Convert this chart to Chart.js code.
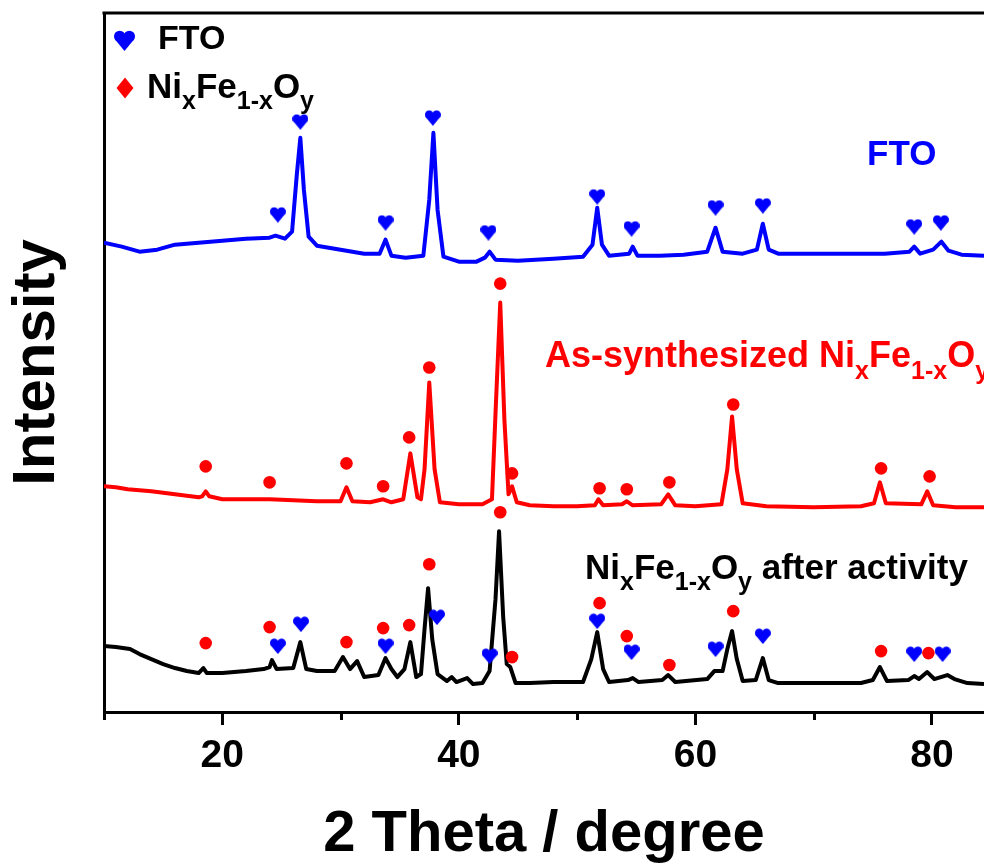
<!DOCTYPE html>
<html>
<head>
<meta charset="utf-8">
<script src="https://cdn.jsdelivr.net/npm/chart.js@4/dist/chart.umd.min.js"></script>
<style>
  html, body { margin: 0; padding: 0; background: #fff; overflow: hidden; }
</style>
</head>
<body>
<canvas id="xrd" width="984" height="867"></canvas>
<script>
/* XRD patterns: FTO substrate, as-synthesized NixFe1-xOy, NixFe1-xOy after activity. */

const FONT = '"Liberation Sans", Arial, sans-serif';
const X_TICKS = [20, 40, 60, 80];
const X_MINOR = [10, 30, 50, 70];

// intensity in a.u., patterns already stacked with offsets
const ftoTheta = [10.0, 11.5, 13.0, 14.5, 16.0, 18.0, 20.0, 22.0, 24.0, 24.5, 25.3, 25.9, 26.3, 26.6, 26.9, 27.3,
  28.0, 30.0, 32.0, 33.3, 33.8, 34.3, 35.5, 37.0, 37.5, 37.85, 38.2, 38.7, 40.0, 41.5, 42.2, 42.6, 43.1, 45.0,
  48.0, 50.5, 51.3, 51.7, 52.1, 52.7, 54.4, 54.7, 55.1, 57.0, 59.0, 61.0, 61.7, 62.3, 64.0, 65.2, 65.7, 66.2,
  67.0, 70.0, 73.0, 76.0, 78.1, 78.5, 79.0, 80.1, 80.8, 81.4, 82.5, 84.4];
const ftoI = [470, 466, 461, 463, 468, 470, 472, 474, 475, 477, 474, 481, 538, 575, 523, 476,
  467, 463, 459, 459, 473, 457, 455, 457, 513, 580, 503, 456, 451, 451, 455, 461, 453, 452,
  454, 456, 468, 505, 468, 457, 459, 466, 457, 457, 458, 461, 485, 461, 459, 463, 489, 463,
  459, 459, 459, 459, 461, 466, 459, 463, 471, 462, 458, 457];

const asTheta = [10.0, 11.0, 12.0, 14.0, 16.0, 18.0, 18.3, 18.6, 18.9, 20.0, 22.0, 24.0, 26.0, 28.0, 30.0, 30.5,
  31.0, 32.5, 33.6, 34.3, 35.3, 35.9, 36.5, 36.8, 37.1, 37.5, 37.95, 38.4, 40.0, 42.0, 42.8, 43.15, 43.5, 43.85,
  44.2, 44.5, 44.9, 46.0, 48.0, 50.0, 51.5, 51.8, 52.2, 53.8, 54.2, 54.7, 57.1, 57.7, 58.3, 60.0, 62.2, 62.7,
  63.1, 63.5, 64.0, 66.0, 70.0, 74.0, 75.1, 75.6, 76.1, 79.1, 79.6, 80.1, 82.0, 84.4];
const asI = [226, 225, 223, 221, 218, 215, 216, 221, 216, 213, 213, 213, 212, 211, 211, 225,
  211, 210, 213, 210, 213, 259, 215, 213, 243, 330, 243, 210, 208, 208, 213, 313, 410, 293,
  218, 226, 210, 207, 206, 206, 207, 213, 207, 208, 211, 207, 208, 218, 207, 206, 208, 243,
  296, 243, 209, 206, 205, 206, 209, 230, 209, 208, 221, 207, 205, 205];

const actTheta = [10.0, 11.0, 12.2, 13.0, 14.0, 15.0, 16.0, 17.0, 18.0, 18.4, 18.7, 20.0, 22.0, 23.5, 24.0, 24.2,
  24.6, 26.0, 26.6, 27.1, 28.0, 29.5, 30.2, 30.8, 31.4, 32.0, 33.2, 33.8, 34.3, 34.8, 35.4, 35.9, 36.4, 36.8,
  37.1, 37.4, 37.75, 38.2, 39.0, 39.4, 39.8, 40.7, 41.2, 42.0, 42.6, 43.1, 43.4, 43.75, 44.05, 44.35, 44.8,
  46.0, 48.0, 50.5, 51.2, 51.7, 52.2, 52.7, 54.3, 54.7, 55.2, 57.2, 57.7, 58.3, 61.0, 61.6, 62.3, 62.7, 63.1,
  63.5, 64.0, 65.1, 65.7, 66.2, 67.0, 70.0, 74.0, 75.0, 75.6, 76.2, 78.0, 78.5, 78.9, 79.6, 80.2, 81.3, 81.9,
  83.0, 84.4];
const actI = [66, 65, 63, 58, 53, 48, 44, 41, 39, 44, 39, 39, 41, 43, 45, 52,
  43, 44, 70, 43, 41, 41, 55, 43, 51, 35, 37, 54, 43, 35, 43, 70, 35, 38,
  83, 124, 73, 38, 31, 35, 30, 34, 28, 29, 41, 113, 181, 95, 48, 45, 29,
  29, 30, 30, 53, 80, 43, 30, 32, 34, 30, 32, 37, 30, 33, 41, 41, 63, 81,
  53, 31, 32, 54, 32, 29, 29, 29, 32, 45, 31, 32, 36, 33, 40, 33, 37, 33,
  29, 28];

// reflection markers
const ftoMarkTheta = [24.7, 26.6, 33.8, 37.8, 42.5, 51.7, 54.6, 61.7, 65.7, 78.5, 80.75];
const ftoMarkI = [498, 591, 490, 595, 480, 516, 484, 505, 507, 486, 490];
const asMarkTheta = [18.6, 24.0, 30.5, 33.6, 35.8, 37.5, 43.5, 44.5, 51.9, 54.2, 57.8, 63.2, 75.7, 79.8];
const asMarkI = [246, 230, 249, 226, 275, 345, 429, 239, 224, 223, 230, 308, 244, 236];
const actDotTheta = [18.6, 24.0, 30.5, 33.6, 35.8, 37.5, 43.5, 44.5, 51.9, 54.2, 57.8, 63.2, 75.7, 79.7];
const actDotI = [69, 85, 70, 84, 87, 148, 200, 55, 109, 76, 47, 101, 61, 59];
const actHeartTheta = [24.7, 26.65, 33.8, 38.15, 42.6, 51.7, 54.6, 61.7, 65.7, 78.5, 80.9];
const actHeartI = [66, 88, 66, 95, 56, 91, 60, 63, 76, 58, 58];

const pts = (xs, ys) => xs.map((x, i) => ({ x, y: ys[i] }));

function heartCanvas(w, h, color) {
  const c = document.createElement("canvas");
  c.width = w; c.height = h;
  const g = c.getContext("2d");
  g.fillStyle = color;
  const r = w * 0.27;
  g.beginPath(); g.arc(w * 0.27, h * 0.3, r, 0, Math.PI * 2); g.fill();
  g.beginPath(); g.arc(w * 0.73, h * 0.3, r, 0, Math.PI * 2); g.fill();
  g.beginPath();
  g.moveTo(w * 0.01, h * 0.4);
  g.lineTo(w / 2, h);
  g.lineTo(w * 0.99, h * 0.4);
  g.lineTo(w / 2, h * 0.3);
  g.closePath(); g.fill();
  return c;
}
const HEART = heartCanvas(16, 16, "#0000ff");
const HEART_BIG = heartCanvas(21, 21, "#0000ff");

// text runs: [string, isSubscript]
const NIFEO = [["Ni", 0], ["x", 1], ["Fe", 0], ["1-x", 1], ["O", 0], ["y", 1]];

function richText(ctx, x, y, parts, size, color) {
  let cx = x;
  ctx.fillStyle = color;
  ctx.textBaseline = "alphabetic";
  ctx.textAlign = "left";
  for (const [t, sub] of parts) {
    ctx.font = `bold ${sub ? Math.round(size * 0.7) : size}px ${FONT}`;
    ctx.fillText(t, cx, sub ? y + size * 0.32 : y);
    cx += ctx.measureText(t).width;
  }
}

const decor = {
  id: "decor",
  afterDraw(chart) {
    const { ctx, chartArea: a, scales: { x } } = chart;
    ctx.save();
    ctx.strokeStyle = "#000";
    ctx.lineWidth = 3;
    ctx.beginPath();
    ctx.moveTo(a.left - 1.5, a.top); ctx.lineTo(a.right, a.top);
    X_MINOR.forEach((v) => {
      const px = Math.round(x.getPixelForValue(v)) + 0.5;
      ctx.moveTo(px, a.bottom); ctx.lineTo(px, a.bottom + 8);
    });
    ctx.stroke();

    // legend
    ctx.drawImage(HEART_BIG, 114, 30);
    ctx.fillStyle = "#ff0000";
    ctx.beginPath();
    ctx.moveTo(125, 77.5); ctx.lineTo(133.5, 88); ctx.lineTo(125, 98.5); ctx.lineTo(116.5, 88);
    ctx.closePath(); ctx.fill();
    richText(ctx, 158, 49, [["FTO", 0]], 34, "#000");
    richText(ctx, 147, 98, NIFEO, 35, "#000");

    // curve labels
    richText(ctx, 867, 165, [["FTO", 0]], 35, "#0000ff");
    richText(ctx, 545, 367, [["As-synthesized ", 0], ...NIFEO], 36, "#ff0000");
    richText(ctx, 585, 579, [...NIFEO, [" after activity", 0]], 35, "#000");
    ctx.restore();
  },
};

const line = (data, color) => ({
  type: "line", data, borderColor: color, borderWidth: 4, pointRadius: 0,
  tension: 0, fill: false, order: 1, borderJoinStyle: "round",
});
const marks = (data, style, color, radius) => ({
  type: "scatter", data, pointStyle: style, pointRadius: radius,
  backgroundColor: color, borderWidth: 0, order: 0,
});

new Chart(document.getElementById("xrd"), {
  data: {
    datasets: [
      line(pts(ftoTheta, ftoI), "#0000ff"),
      line(pts(asTheta, asI), "#ff0000"),
      line(pts(actTheta, actI), "#000000"),
      marks(pts(ftoMarkTheta, ftoMarkI), HEART, "#0000ff", 8),
      marks(pts(asMarkTheta, asMarkI), "circle", "#ff0000", 6.3),
      marks(pts(actDotTheta, actDotI), "circle", "#ff0000", 6.3),
      marks(pts(actHeartTheta, actHeartI), HEART, "#0000ff", 8),
    ],
  },
  options: {
    responsive: false,
    devicePixelRatio: 1,
    animation: false,
    events: [],
    layout: { autoPadding: false, padding: { top: 13, right: 0, bottom: 0, left: 0 } },
    plugins: { legend: { display: false }, tooltip: { enabled: false } },
    scales: {
      x: {
        type: "linear", min: 10, max: 84.4,
        afterBuildTicks: (axis) => { axis.ticks = X_TICKS.map((v) => ({ value: v })); },
        grid: { drawOnChartArea: false, drawTicks: true, tickLength: 13, tickWidth: 3, tickColor: "#000", lineWidth: 3 },
        border: { display: true, color: "#000", width: 3 },
        ticks: { color: "#000", padding: 12, font: { family: FONT, size: 39, weight: "bold", lineHeight: 1 } },
        title: {
          display: true, text: "2 Theta / degree", color: "#000",
          font: { family: FONT, size: 58, weight: "bold", lineHeight: 1 },
          padding: { top: 18, bottom: 3 },
        },
      },
      y: {
        type: "linear", min: 0, max: 700,
        grid: { display: false, drawTicks: false },
        border: { display: true, color: "#000", width: 3 },
        ticks: { display: false },
        title: {
          display: true, text: "Intensity", color: "#000",
          font: { family: FONT, size: 60, weight: "bold", lineHeight: 1 },
          padding: { top: 7, bottom: 37 },
        },
      },
    },
  },
  plugins: [decor],
});
</script>
</body>
</html>
